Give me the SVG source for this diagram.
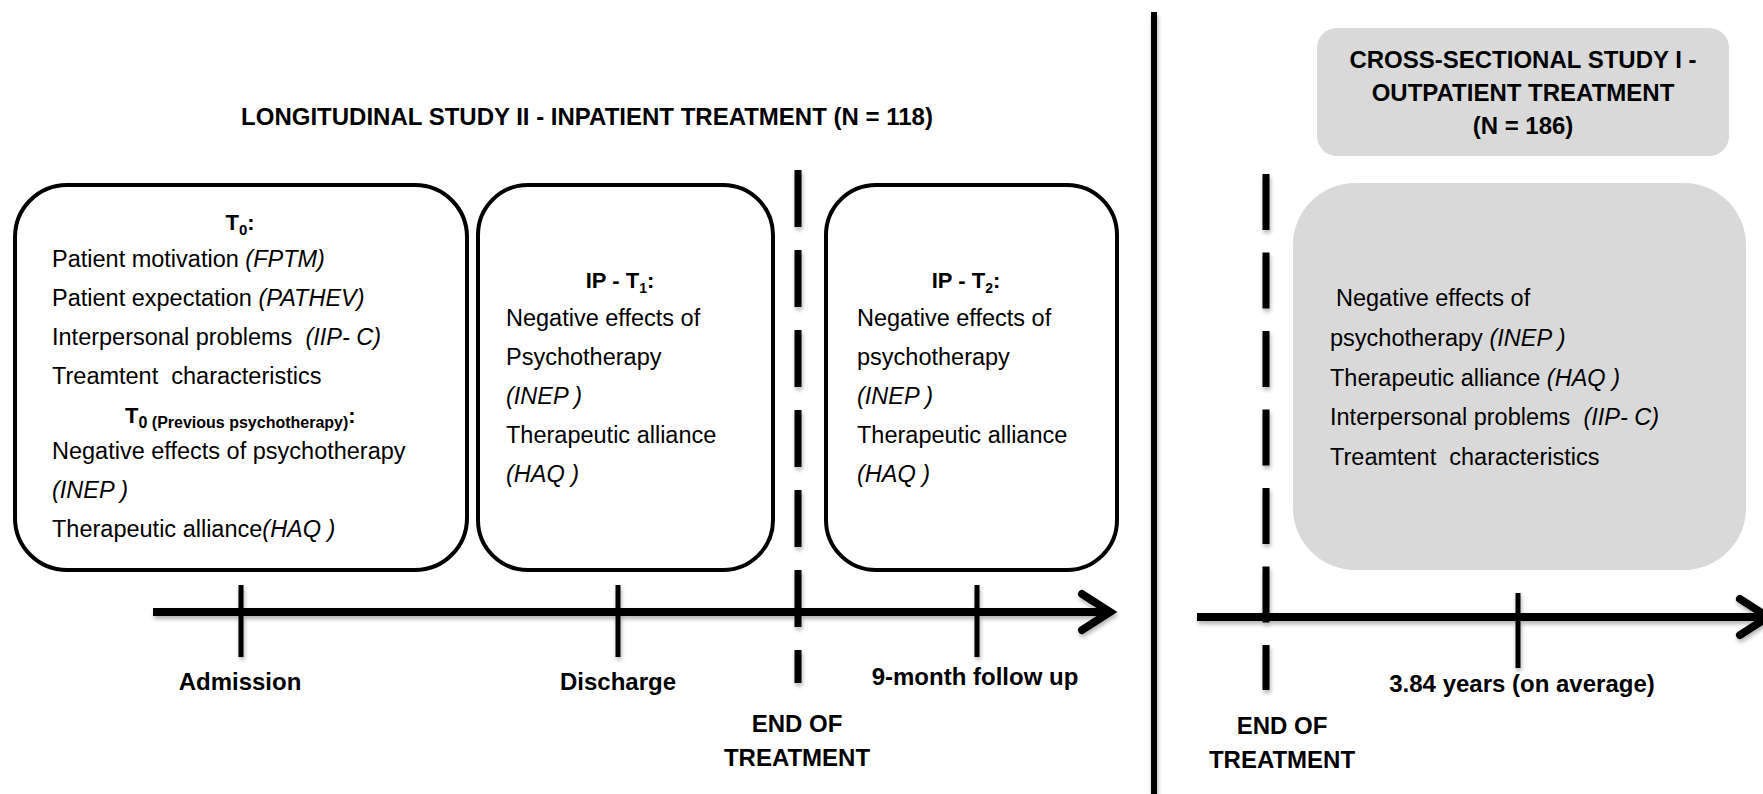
<svg xmlns="http://www.w3.org/2000/svg" width="1763" height="794" viewBox="0 0 1763 794">
<defs>
<style>
text { font-family: "Liberation Sans", Arial, sans-serif; fill: #000; }
.body { font-size: 23.5px; }
.it { font-style: italic; }
.hd { font-size: 22px; font-weight: bold; }
.ttl { font-size: 24px; font-weight: bold; text-anchor: middle; }
.lbl { font-size: 24px; font-weight: bold; text-anchor: middle; }
.box { fill: #fff; stroke: #000; stroke-width: 4; }
.gbox { fill: #d9d9d9; }
.axis { stroke: #000; stroke-width: 8; fill: none; }
.tick { stroke: #000; stroke-width: 5; }
.dash { stroke: #000; stroke-width: 7; }
.sep { stroke: #000; stroke-width: 6; }
</style>
<filter id="sh" x="-5%" y="-50%" width="110%" height="200%">
<feDropShadow dx="1" dy="3" stdDeviation="2" flood-color="#000" flood-opacity="0.3"/>
</filter>
<marker id="arr" markerUnits="userSpaceOnUse" markerWidth="44" markerHeight="48" refX="36" refY="24" orient="auto" viewBox="0 0 44 48">
<path d="M8,6 L36,24 L8,42" fill="none" stroke="#000" stroke-width="8" stroke-linecap="round"/>
</marker>
</defs>
<rect width="1763" height="794" fill="#fff"/>

<g id="title-longitudinal">
<text class="ttl" x="587" y="125">LONGITUDINAL STUDY II - INPATIENT TREATMENT (N = 118)</text>
</g>

<g id="node-t0">
<rect class="box" x="15" y="185" width="452" height="385" rx="52"/>
<text class="hd" x="240" y="230" text-anchor="middle" font-size="23">T<tspan font-size="15" dy="5">0</tspan><tspan dy="-5">:</tspan></text>
<text class="body" x="52" y="267">Patient motivation <tspan class="it">(FPTM)</tspan></text>
<text class="body" x="52" y="306">Patient expectation <tspan class="it">(PATHEV)</tspan></text>
<text class="body" x="52" y="345" xml:space="preserve">Interpersonal problems  <tspan class="it">(IIP- C)</tspan></text>
<text class="body" x="52" y="384" xml:space="preserve">Treamtent  characteristics</text>
<text class="hd" x="125" y="423" font-size="24">T<tspan font-size="16" dy="5">0 (Previous psychotherapy)</tspan><tspan dy="-5">:</tspan></text>
<text class="body" x="52" y="459">Negative effects of psychotherapy</text>
<text class="body it" x="52" y="498">(INEP )</text>
<text class="body" x="52" y="537">Therapeutic alliance<tspan class="it">(HAQ )</tspan></text>
</g>

<g id="node-ip-t1">
<rect class="box" x="478" y="185" width="295" height="385" rx="50"/>
<text class="hd" x="620" y="288" text-anchor="middle">IP - T<tspan font-size="14" dy="5">1</tspan><tspan dy="-5">:</tspan></text>
<text class="body" x="506" y="326">Negative effects of</text>
<text class="body" x="506" y="365">Psychotherapy</text>
<text class="body it" x="506" y="404">(INEP )</text>
<text class="body" x="506" y="443">Therapeutic alliance</text>
<text class="body it" x="506" y="482">(HAQ )</text>
</g>

<g id="node-ip-t2">
<rect class="box" x="826" y="185" width="291" height="385" rx="50"/>
<text class="hd" x="966" y="288" text-anchor="middle">IP - T<tspan font-size="14" dy="5">2</tspan><tspan dy="-5">:</tspan></text>
<text class="body" x="857" y="326">Negative effects of</text>
<text class="body" x="857" y="365">psychotherapy</text>
<text class="body it" x="857" y="404">(INEP )</text>
<text class="body" x="857" y="443">Therapeutic alliance</text>
<text class="body it" x="857" y="482">(HAQ )</text>
</g>

<g id="title-cross-sectional">
<rect class="gbox" x="1317" y="28" width="412" height="128" rx="20"/>
<text class="ttl" x="1523" y="68">CROSS-SECTIONAL STUDY I -</text>
<text class="ttl" x="1523" y="101">OUTPATIENT TREATMENT</text>
<text class="ttl" x="1523" y="134">(N = 186)</text>
</g>

<g id="node-cs">
<rect class="gbox" x="1293" y="183" width="453" height="387" rx="62"/>
<text class="body" x="1336" y="306">Negative effects of</text>
<text class="body" x="1330" y="346">psychotherapy <tspan class="it">(INEP )</tspan></text>
<text class="body" x="1330" y="386">Therapeutic alliance <tspan class="it">(HAQ )</tspan></text>
<text class="body" x="1330" y="425" xml:space="preserve">Interpersonal problems  <tspan class="it">(IIP- C)</tspan></text>
<text class="body" x="1330" y="465" xml:space="preserve">Treamtent  characteristics</text>
</g>

<g id="connectors" filter="url(#sh)">
<line class="sep" x1="1154" y1="12" x2="1154" y2="794"/>
<line class="axis" x1="153" y1="612" x2="1110" y2="612" marker-end="url(#arr)"/>
<line class="tick" x1="241" y1="585" x2="241" y2="657"/>
<line class="tick" x1="618" y1="585" x2="618" y2="657"/>
<line class="tick" x1="977" y1="585" x2="977" y2="657"/>
<line class="dash" x1="798" y1="170" x2="798" y2="683" stroke-dasharray="57 23"/>
<line class="axis" x1="1197" y1="617" x2="1768" y2="617" marker-end="url(#arr)"/>
<line class="tick" x1="1518" y1="593" x2="1518" y2="668"/>
<line class="dash" x1="1266" y1="174" x2="1266" y2="690" stroke-dasharray="56 22.5"/>
</g>

<g id="labels">
<text class="lbl" x="240" y="690">Admission</text>
<text class="lbl" x="618" y="690">Discharge</text>
<text class="lbl" x="975" y="685">9-month follow up</text>
<text class="lbl" x="797" y="732">END OF</text>
<text class="lbl" x="797" y="766">TREATMENT</text>
<text class="lbl" x="1282" y="734">END OF</text>
<text class="lbl" x="1282" y="768">TREATMENT</text>
<text class="lbl" x="1522" y="692">3.84 years (on average)</text>
</g>
</svg>
